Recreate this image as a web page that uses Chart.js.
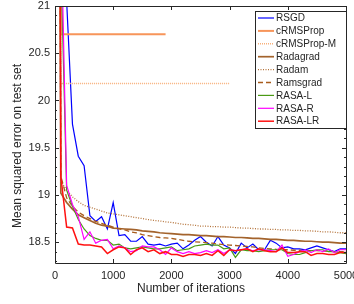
<!DOCTYPE html>
<html>
<head>
<meta charset="utf-8">
<script src="https://cdn.jsdelivr.net/npm/chart.js@4.4.1/dist/chart.umd.min.js"></script>
<style>
body{margin:0;background:#fff;}
canvas{display:block;}
</style>
</head>
<body>
<canvas id="mse-chart" width="354" height="304"></canvas>
<script>
// -------------------- Datos --------------------
const iterations = [0,100,200,300,400,500,600,700,800,900,1000,1100,1200,1300,1400,1500,1600,1700,1800,1900,2000,
    2100,2200,2300,2400,2500,2600,2700,2800,2900,3000,3100,3200,3300,3400,3500,3600,3700,3800,3900,4000,
    4100,4200,4300,4400,4500,4600,4700,4800,4900,5000];
const xTicks = [0,1000,2000,3000,4000,5000];
const yTicks = [18.5,19,19.5,20,20.5,21];

const rsgd = [30,23,21.05,19.75,19.41,19.31,18.78,18.72,18.77,18.64,18.92,18.57,18.58,18.51,18.51,18.56,18.48,18.47,18.48,18.46,18.48,
    18.49,18.43,18.47,18.52,18.56,18.50,18.46,18.56,18.47,18.44,18.38,18.49,18.44,18.48,18.42,18.42,18.52,18.49,18.44,18.45,
    18.43,18.43,18.42,18.44,18.46,18.44,18.42,18.40,18.43,18.43];
const crmsprop = [40,20.7,20.7,20.7,20.7,20.7,20.7,20.7,20.7,20.7,20.7,20.7,20.7,20.7,20.7,20.7,20.7,20.7,20.7,20.7];
const crmspropM = [40,20.18,20.18,20.18,20.18,20.18,20.18,20.18,20.18,20.18,20.18,20.18,20.18,20.18,20.18,20.18,20.18,20.18,20.18,20.18,20.18,
    20.18,20.18,20.18,20.18,20.18,20.18,20.18,20.18,20.18,20.18];
const radagrad = [40,19.02,18.92,18.85,18.79,18.76,18.73,18.70,18.68,18.67,18.65,18.645,18.64,18.635,18.63,18.62,18.615,18.61,18.60,18.595,18.59,
    18.585,18.58,18.58,18.575,18.57,18.57,18.565,18.56,18.56,18.555,18.55,18.55,18.545,18.54,18.54,18.535,18.53,18.53,18.525,18.52,
    18.52,18.515,18.51,18.51,18.505,18.50,18.50,18.495,18.49,18.49];
const radam = [40,19.15,19.05,18.98,18.93,18.89,18.87,18.85,18.83,18.81,18.80,18.79,18.78,18.77,18.76,18.75,18.74,18.73,18.725,18.715,18.71,
    18.70,18.69,18.685,18.68,18.67,18.67,18.665,18.665,18.66,18.66,18.655,18.65,18.65,18.645,18.64,18.64,18.635,18.635,18.63,18.63,
    18.625,18.625,18.62,18.62,18.615,18.61,18.61,18.605,18.60,18.60];
const ramsgrad = [40,19.2,18.97,18.88,18.82,18.78,18.75,18.72,18.70,18.68,18.66,18.64,18.63,18.61,18.60,18.58,18.57,18.56,18.55,18.545,18.54,
    18.53,18.52,18.51,18.505,18.50,18.495,18.49,18.48,18.475,18.47,18.465,18.46,18.455,18.45,18.44,18.435,18.43,18.425,18.42,18.42,
    18.415,18.415,18.41,18.41,18.41,18.405,18.405,18.40,18.40,18.40];
const rasaL = [40,21.5,19.05,18.88,18.74,18.64,18.57,18.54,18.52,18.52,18.47,18.48,18.44,18.43,18.44,18.45,18.44,18.43,18.43,18.44,18.45,
    18.41,18.42,18.43,18.46,18.47,18.48,18.47,18.47,18.43,18.44,18.34,18.42,18.41,18.41,18.40,18.41,18.42,18.42,18.42,18.38,
    18.37,18.37,18.39,18.41,18.42,18.42,18.40,18.40,18.39,18.38];
const rasaR = [40,22,19.1,18.9,18.77,18.53,18.61,18.49,18.52,18.53,18.43,18.46,18.44,18.40,18.41,18.46,18.45,18.45,18.42,18.37,18.44,
    18.40,18.38,18.40,18.38,18.39,18.41,18.39,18.42,18.38,18.42,18.41,18.42,18.43,18.41,18.42,18.42,18.41,18.40,18.47,18.35,
    18.37,18.40,18.42,18.39,18.42,18.40,18.43,18.39,18.42,18.42];
const rasaLR = [40,19.2,18.66,18.65,18.48,18.47,18.47,18.46,18.45,18.38,18.42,18.45,18.44,18.37,18.42,18.44,18.40,18.42,18.38,18.40,18.37,
    18.37,18.35,18.37,18.37,18.36,18.38,18.36,18.41,18.36,18.42,18.41,18.42,18.43,18.40,18.43,18.41,18.40,18.40,18.44,18.39,
    18.39,18.40,18.40,18.36,18.38,18.38,18.37,18.37,18.39,18.39];

const FONT = "'Liberation Sans', Arial, sans-serif";
const TXT = '#262626';

function pts(vals){
    return vals.map((v,i)=>({x:iterations[i], y:v}));
}

const series = [
    {label:'RSGD', data:rsgd, color:'#0000ff', width:1.2, dash:[]},
    {label:'cRMSProp', data:crmsprop, color:'#f7955a', width:2, dash:[]},
    {label:'cRMSProp-M', data:crmspropM, color:'#f8b07a', width:1.5, dash:[1,1]},
    {label:'Radagrad', data:radagrad, color:'#a3632c', width:1.7, dash:[]},
    {label:'Radam', data:radam, color:'#b4733a', width:1.3, dash:[1,1.5]},
    {label:'Ramsgrad', data:ramsgrad, color:'#a85c1c', width:1.3, dash:[5,3]},
    {label:'RASA-L', data:rasaL, color:'#4a9a14', width:1.2, dash:[]},
    {label:'RASA-R', data:rasaR, color:'#ff00ff', width:1.2, dash:[]},
    {label:'RASA-LR', data:rasaLR, color:'#ff1010', width:1.5, dash:[]}
];

// -------------------- Marco, marcas y títulos --------------------
const frame = {
    id:'frame',
    afterDatasetsDraw(chart){
        const {ctx, chartArea:a, scales:{x,y}} = chart;
        ctx.save();
        ctx.strokeStyle = TXT;
        ctx.lineWidth = 1;
        ctx.beginPath();
        ctx.rect(Math.round(a.left)+0.5, Math.round(a.top)+0.5, Math.round(a.right-a.left), Math.round(a.bottom-a.top));
        ctx.stroke();
        ctx.beginPath();
        for(let k=183;k<=210;k++){
            const v = k/10;
            const py = Math.round(y.getPixelForValue(v))+0.5;
            const len = (k%5===0)?4:2;
            ctx.moveTo(a.left, py); ctx.lineTo(a.left+len, py);
            ctx.moveTo(a.right, py); ctx.lineTo(a.right-len, py);
        }
        xTicks.forEach(t=>{
            const px = Math.round(x.getPixelForValue(t))+0.5;
            ctx.moveTo(px, a.bottom); ctx.lineTo(px, a.bottom-4);
            ctx.moveTo(px, a.top); ctx.lineTo(px, a.top+4);
        });
        ctx.stroke();

        ctx.fillStyle = TXT;
        ctx.font = '12px '+FONT;
        ctx.textAlign = 'center';
        ctx.textBaseline = 'middle';
        ctx.fillText('Number of iterations', 191, 289);
        ctx.translate(18, 146);
        ctx.rotate(-Math.PI/2);
        ctx.fillText('Mean squared error on test set', 0, 0);
        ctx.restore();
    }
};

// -------------------- Leyenda --------------------
const legendBox = {
    id:'legendBox',
    afterDraw(chart){
        const ctx = chart.ctx;
        const a = chart.chartArea;
        const x0 = 255.5, y0 = 11.5, w = Math.round(a.right) - 255, h = 117;
        ctx.save();
        ctx.fillStyle = '#fff';
        ctx.fillRect(x0, y0, w, h);
        ctx.strokeStyle = TXT;
        ctx.lineWidth = 1;
        ctx.strokeRect(x0, y0, w, h);
        ctx.font = '10px '+FONT;
        ctx.textBaseline = 'middle';
        ctx.textAlign = 'left';
        chart.data.datasets.forEach((ds,i)=>{
            const ly = 18 + i*12.9;
            ctx.beginPath();
            ctx.strokeStyle = ds.borderColor;
            ctx.lineWidth = ds.borderWidth;
            ctx.setLineDash(ds.borderDash||[]);
            ctx.moveTo(258, ly); ctx.lineTo(274, ly);
            ctx.stroke();
            ctx.setLineDash([]);
            ctx.fillStyle = TXT;
            ctx.fillText(ds.label, 276, ly+0.5);
        });
        ctx.restore();
    }
};

new Chart(document.getElementById('mse-chart').getContext('2d'), {
    type:'line',
    data:{
        datasets: series.map((s,i)=>({
            label:s.label,
            data:pts(s.data),
            borderColor:s.color,
            borderWidth:s.width,
            borderDash:s.dash,
            pointRadius:0,
            tension:0,
            fill:false,
            order:series.length-i
        }))
    },
    options:{
        responsive:false,
        animation:false,
        devicePixelRatio:1,
        layout:{ padding:{ top:6, right:8, left:0, bottom:0 } },
        plugins:{ legend:{ display:false }, tooltip:{ enabled:false } },
        scales:{
            x:{
                type:'linear', min:0, max:5000,
                grid:{ display:false, drawTicks:false },
                border:{ display:false },
                afterBuildTicks:s=>{ s.ticks = xTicks.map(v=>({value:v})); },
                afterFit:s=>{ s.height = 41; s.paddingLeft = 0; s.paddingRight = 0; },
                ticks:{ font:{ family:FONT, size:11 }, color:TXT, padding:6, maxRotation:0, autoSkip:false,
                    callback:v=>String(v) }
            },
            y:{
                type:'linear', min:18.28, max:21,
                grid:{ display:false, drawTicks:false },
                border:{ display:false },
                afterBuildTicks:s=>{ s.ticks = yTicks.map(v=>({value:v})); },
                afterFit:s=>{ s.width = 55; s.paddingTop = 0; s.paddingBottom = 0; },
                ticks:{ font:{ family:FONT, size:11 }, color:TXT, padding:5, autoSkip:false,
                    callback:v=>String(v) }
            }
        }
    },
    plugins:[frame, legendBox]
});
</script>
</body>
</html>
